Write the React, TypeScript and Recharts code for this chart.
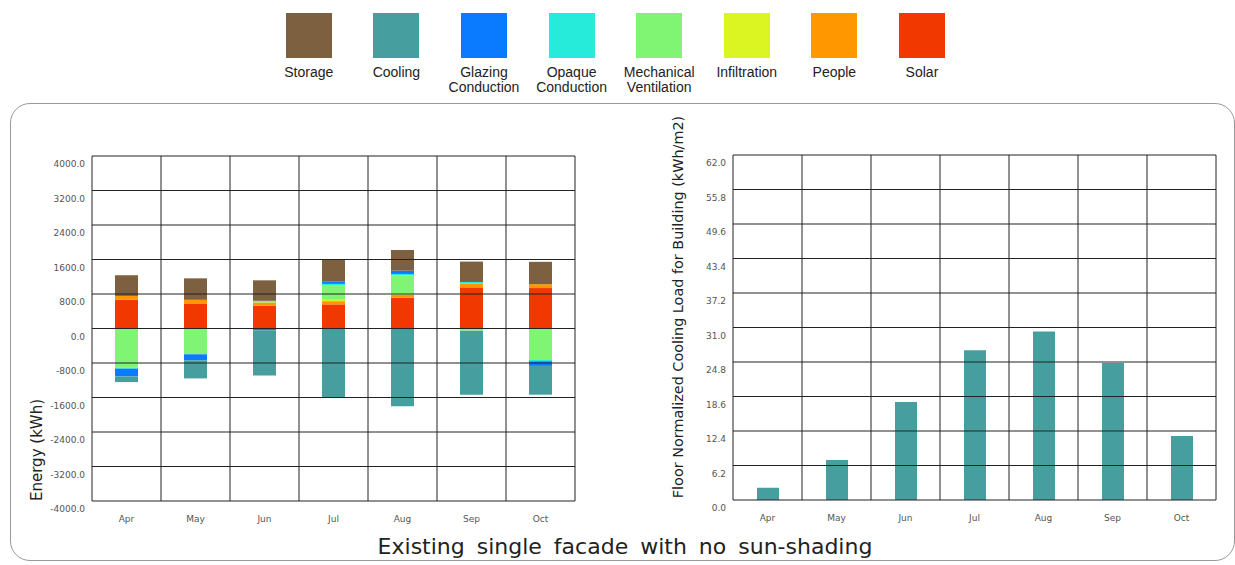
import { BarChart, Bar, XAxis, YAxis, CartesianGrid } from "recharts";

const months = ["Apr", "May", "Jun", "Jul", "Aug", "Sep", "Oct"];

// energy balance per month (kWh), stacked in this order from zero outward
const solar = [665, 581, 526, 560, 715, 954, 938];
const people = [90, 84, 78, 75, 65, 90, 90];
const infiltration = [0, 0, 0, 30, 25, 0, 0];
const mechVent = [-907, -598, 38, 330, 430, -50, -729];
const opaque = [-25, 0, 0, 40, 30, 35, -30];
const glazing = [-179, -140, -40, 60, 75, 0, -109];
const cooling = [-132, -419, -1050, -1600, -1800, -1489, -667];
const storage = [480, 498, 475, 515, 480, 473, 518];

// floor normalized cooling load (kWh/m2)
const coolingLoad = [2.2, 7.2, 17.6, 26.9, 30.3, 24.6, 11.5];

const energyTicks = [-4000, -3200, -2400, -1600, -800, 0, 800, 1600, 2400, 3200, 4000];
const loadTicks = [0, 6.2, 12.4, 18.6, 24.8, 31.0, 37.2, 43.4, 49.6, 55.8, 62.0];

const series = [
  { key: "solar", name: "Solar", color: "#f03800", values: solar },
  { key: "people", name: "People", color: "#ff9800", values: people },
  { key: "infiltration", name: "Infiltration", color: "#dbf523", values: infiltration },
  { key: "mechVent", name: "Mechanical\nVentilation", color: "#80f573", values: mechVent },
  { key: "opaque", name: "Opaque\nConduction", color: "#26ebdb", values: opaque },
  { key: "glazing", name: "Glazing\nConduction", color: "#0a7bff", values: glazing },
  { key: "cooling", name: "Cooling", color: "#469e9e", values: cooling },
  { key: "storage", name: "Storage", color: "#7d6040", values: storage },
];

const energyData = months.map((m, i) => {
  const row: Record<string, string | number> = { month: m };
  series.forEach((s) => (row[s.key] = s.values[i]));
  return row;
});

const loadData = months.map((m, i) => ({ month: m, load: coolingLoad[i] }));

const tickFont = "DejaVu Sans, Verdana, sans-serif";

function YTick({ x, y, payload }: any) {
  return (
    <text x={x} y={y + 8} textAnchor="end" dominantBaseline="central" fontSize={9} fill="#555" fontFamily={tickFont}>
      {Number(payload.value).toFixed(1)}
    </text>
  );
}

function XTick({ x, y, payload }: any) {
  return (
    <text x={x} y={y + 18} textAnchor="middle" dominantBaseline="central" fontSize={9} fill="#555" fontFamily={tickFont}>
      {payload.value}
    </text>
  );
}

// vertical grid lines sit on the month band edges, not the centres
const bandEdges = ({ offset }: any) =>
  months.concat([""]).map((_, i) => offset.left + (i * offset.width) / months.length);

function Legend() {
  return (
    <div style={{ position: "absolute", left: 265, top: 13, display: "flex" }}>
      {series
        .slice()
        .reverse()
        .map((s) => (
          <div key={s.key} style={{ width: 87.6, display: "flex", flexDirection: "column", alignItems: "center" }}>
            <div style={{ width: 46, height: 45, background: s.color }} />
            <div
              style={{
                marginTop: 7,
                fontFamily: "Liberation Sans, Arial, sans-serif",
                fontSize: 14,
                lineHeight: "15px",
                color: "#222",
                textAlign: "center",
                whiteSpace: "pre",
              }}
            >
              {s.name}
            </div>
          </div>
        ))}
    </div>
  );
}

export default function App() {
  return (
    <div style={{ position: "absolute", left: 0, top: 0, width: 1235, height: 565, background: "#fff", overflow: "hidden" }}>
      <Legend />
      <div
        style={{
          position: "absolute",
          left: 10,
          top: 103,
          width: 1223,
          height: 456,
          border: "1px solid #999",
          borderRadius: 20,
        }}
      />

      <div style={{ position: "absolute", left: 0, top: 0 }}>
        <BarChart
          width={600}
          height={565}
          data={energyData}
          stackOffset="sign"
          barSize={23}
          margin={{ top: 156, right: 25, bottom: 34, left: 20 }}
        >
          {series.map((s) => (
            <Bar key={s.key} dataKey={s.key} stackId="e" fill={s.color} isAnimationActive={false} />
          ))}
          <CartesianGrid
            stroke="#222"
            strokeWidth={1}
            verticalCoordinatesGenerator={bandEdges}
            zIndex={600}
          />
          <XAxis dataKey="month" axisLine={false} tickLine={false} tickSize={0} tickMargin={0} height={30} tick={<XTick />} interval={0} />
          <YAxis
            type="number"
            domain={[-4000, 4000]}
            ticks={energyTicks}
            axisLine={false}
            tickLine={false}
            tickSize={0}
            tickMargin={7}
            width={72}
            tick={<YTick />}
            interval={0}
          />
        </BarChart>
      </div>

      <div style={{ position: "absolute", left: 620, top: 0 }}>
        <BarChart
          width={615}
          height={565}
          data={loadData}
          barSize={22}
          margin={{ top: 155, right: 19, bottom: 35, left: 40 }}
        >
          <Bar dataKey="load" fill="#469e9e" isAnimationActive={false} />
          <CartesianGrid stroke="#222" strokeWidth={1} verticalCoordinatesGenerator={bandEdges} zIndex={600} />
          <XAxis dataKey="month" axisLine={false} tickLine={false} tickSize={0} tickMargin={0} height={30} tick={<XTick />} interval={0} />
          <YAxis
            type="number"
            domain={[0, 62]}
            ticks={loadTicks}
            axisLine={false}
            tickLine={false}
            tickSize={0}
            tickMargin={7}
            width={73}
            tick={<YTick />}
            interval={0}
          />
        </BarChart>
      </div>

      <div
        style={{
          position: "absolute",
          left: 37,
          top: 450,
          transform: "translate(-50%, -50%) rotate(-90deg)",
          fontFamily: tickFont,
          fontSize: 15,
          color: "#222",
          whiteSpace: "nowrap",
        }}
      >
        Energy (kWh)
      </div>
      <div
        style={{
          position: "absolute",
          left: 678,
          top: 307,
          transform: "translate(-50%, -50%) rotate(-90deg)",
          fontFamily: tickFont,
          fontSize: 14.4,
          color: "#222",
          whiteSpace: "nowrap",
        }}
      >
        Floor Normalized Cooling Load for Building (kWh/m2)
      </div>

      <div
        style={{
          position: "absolute",
          left: 625,
          top: 546,
          transform: "translate(-50%, -50%)",
          fontFamily: tickFont,
          fontSize: 22,
          wordSpacing: 5,
          color: "#222",
          whiteSpace: "nowrap",
        }}
      >
        Existing single facade with no sun-shading
      </div>
    </div>
  );
}
